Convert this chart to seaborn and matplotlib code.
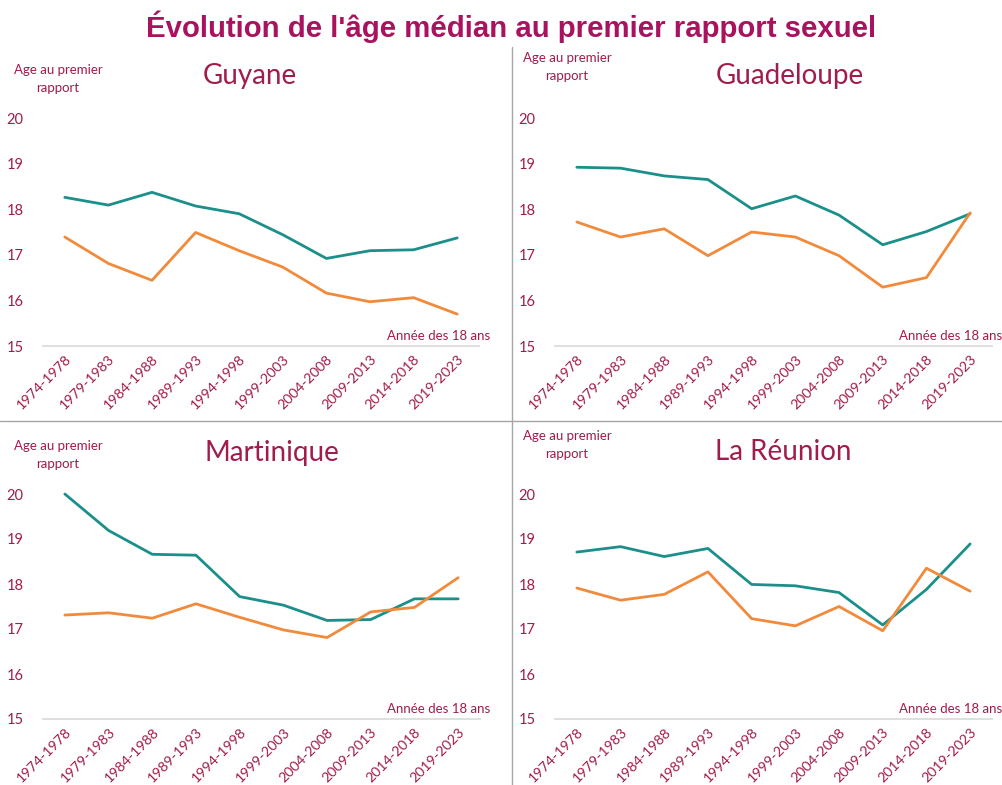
import matplotlib
matplotlib.use('Agg')
import matplotlib.pyplot as plt
import seaborn as sns
import pandas as pd

sns.set_style('white')
plt.rcParams['font.family'] = ['Lato', 'DejaVu Sans']

periods = ["1974-1978", "1979-1983", "1984-1988", "1989-1993", "1994-1998",
           "1999-2003", "2004-2008", "2009-2013", "2014-2018", "2019-2023"]

guyane_f = [18.26, 18.09, 18.37, 18.07, 17.90, 17.44, 16.92, 17.09, 17.11, 17.37]
guyane_h = [17.39, 16.81, 16.44, 17.49, 17.09, 16.73, 16.16, 15.97, 16.06, 15.70]
guadeloupe_f = [18.92, 18.90, 18.73, 18.65, 18.01, 18.29, 17.87, 17.22, 17.51, 17.90]
guadeloupe_h = [17.72, 17.39, 17.57, 16.98, 17.50, 17.39, 16.98, 16.29, 16.50, 17.92]
martinique_f = [20.00, 19.19, 18.66, 18.64, 17.72, 17.53, 17.19, 17.21, 17.67, 17.67]
martinique_h = [17.31, 17.36, 17.24, 17.56, 17.26, 16.98, 16.81, 17.38, 17.48, 18.14]
reunion_f = [18.71, 18.83, 18.61, 18.79, 17.99, 17.96, 17.81, 17.09, 17.88, 18.89]
reunion_h = [17.91, 17.64, 17.77, 18.27, 17.23, 17.07, 17.50, 16.96, 18.35, 17.84]

territories = ["Guyane", "Guadeloupe", "Martinique", "La Réunion"]
series = {
    "Guyane": (guyane_f, guyane_h),
    "Guadeloupe": (guadeloupe_f, guadeloupe_h),
    "Martinique": (martinique_f, martinique_h),
    "La Réunion": (reunion_f, reunion_h),
}

rows = []
for terr in territories:
    f, h = series[terr]
    for p, vf, vh in zip(periods, f, h):
        rows.append({"territoire": terr, "periode": p, "sexe": "Femmes", "age": vf})
        rows.append({"territoire": terr, "periode": p, "sexe": "Hommes", "age": vh})
df = pd.DataFrame(rows)

TEAL = '#1b8f8a'
ORANGE = '#f28a3c'
TXT = '#a01c4c'
TITLE = '#a8125e'

W, H = 1003, 785
fig = plt.figure(figsize=(W / 100, H / 100), dpi=100)

# pixel boxes: left, right, top(=20), bottom(=15)
boxes = {
    "Guyane": (43, 479, 118, 346),
    "Guadeloupe": (555, 992, 118, 346),
    "Martinique": (43, 480, 494, 719),
    "La Réunion": (555, 992, 494, 719),
}
title_pos = {
    "Guyane": (250, 76),
    "Guadeloupe": (790, 76),
    "Martinique": (272, 453),
    "La Réunion": (783, 452),
}
ylabel_pos = {
    "Guyane": (58, 79),
    "Guadeloupe": (567, 67),
    "Martinique": (58, 455),
    "La Réunion": (567, 445),
}

for terr in territories:
    l, r, t, b = boxes[terr]
    ax = fig.add_axes([l / W, 1 - b / H, (r - l) / W, (b - t) / H])
    sub = df[df["territoire"] == terr]
    sns.lineplot(data=sub, x="periode", y="age", hue="sexe",
                 palette={"Femmes": TEAL, "Hommes": ORANGE},
                 linewidth=2, ax=ax, legend=False, sort=False)
    for line in ax.lines:
        line.set_clip_on(False)
    ax.set_xlim(-0.5, 9.5)
    ax.set_ylim(15, 20)
    ax.set_yticks([15, 16, 17, 18, 19, 20])
    ax.set_xlabel('')
    ax.set_ylabel('')
    for s in ['top', 'right', 'left']:
        ax.spines[s].set_visible(False)
    ax.spines['bottom'].set_color('#d9d9d9')
    ax.spines['bottom'].set_linewidth(1.2)
    ax.tick_params(axis='y', length=0, pad=14, labelsize=10.5, labelcolor=TXT)
    ax.tick_params(axis='x', length=0, pad=5, labelsize=10.2, labelcolor=TXT)
    for lab in ax.get_xticklabels():
        lab.set_rotation(45)
        lab.set_ha('right')
        lab.set_rotation_mode('anchor')
    ax.set_facecolor('none')

    tx, ty = title_pos[terr]
    fig.text(tx / W, 1 - ty / H, terr, ha='center', va='center',
             fontsize=20, color=TXT)
    yx, yy = ylabel_pos[terr]
    fig.text(yx / W, 1 - yy / H, "Age au premier\nrapport", ha='center',
             va='center', fontsize=9.5, color=TXT, linespacing=1.6)
    fig.text((l + 344) / W, 1 - (b - 10) / H, "Année des 18 ans",
             ha='left', va='center', fontsize=9.5, color=TXT)

# dividers
fig.add_artist(plt.Line2D([512 / W, 512 / W], [0, 1 - 47 / H],
                          color='#a6a6a6', linewidth=1))
fig.add_artist(plt.Line2D([0, 1], [1 - 421 / H, 1 - 421 / H],
                          color='#a6a6a6', linewidth=1))

fig.text(511 / W, 1 - 27 / H,
         "Évolution de l'âge médian au premier rapport sexuel",
         ha='center', va='center', fontsize=21.2, fontweight='bold',
         color=TITLE, family=['Liberation Sans', 'DejaVu Sans'])

fig.savefig('out.png', dpi=100)
